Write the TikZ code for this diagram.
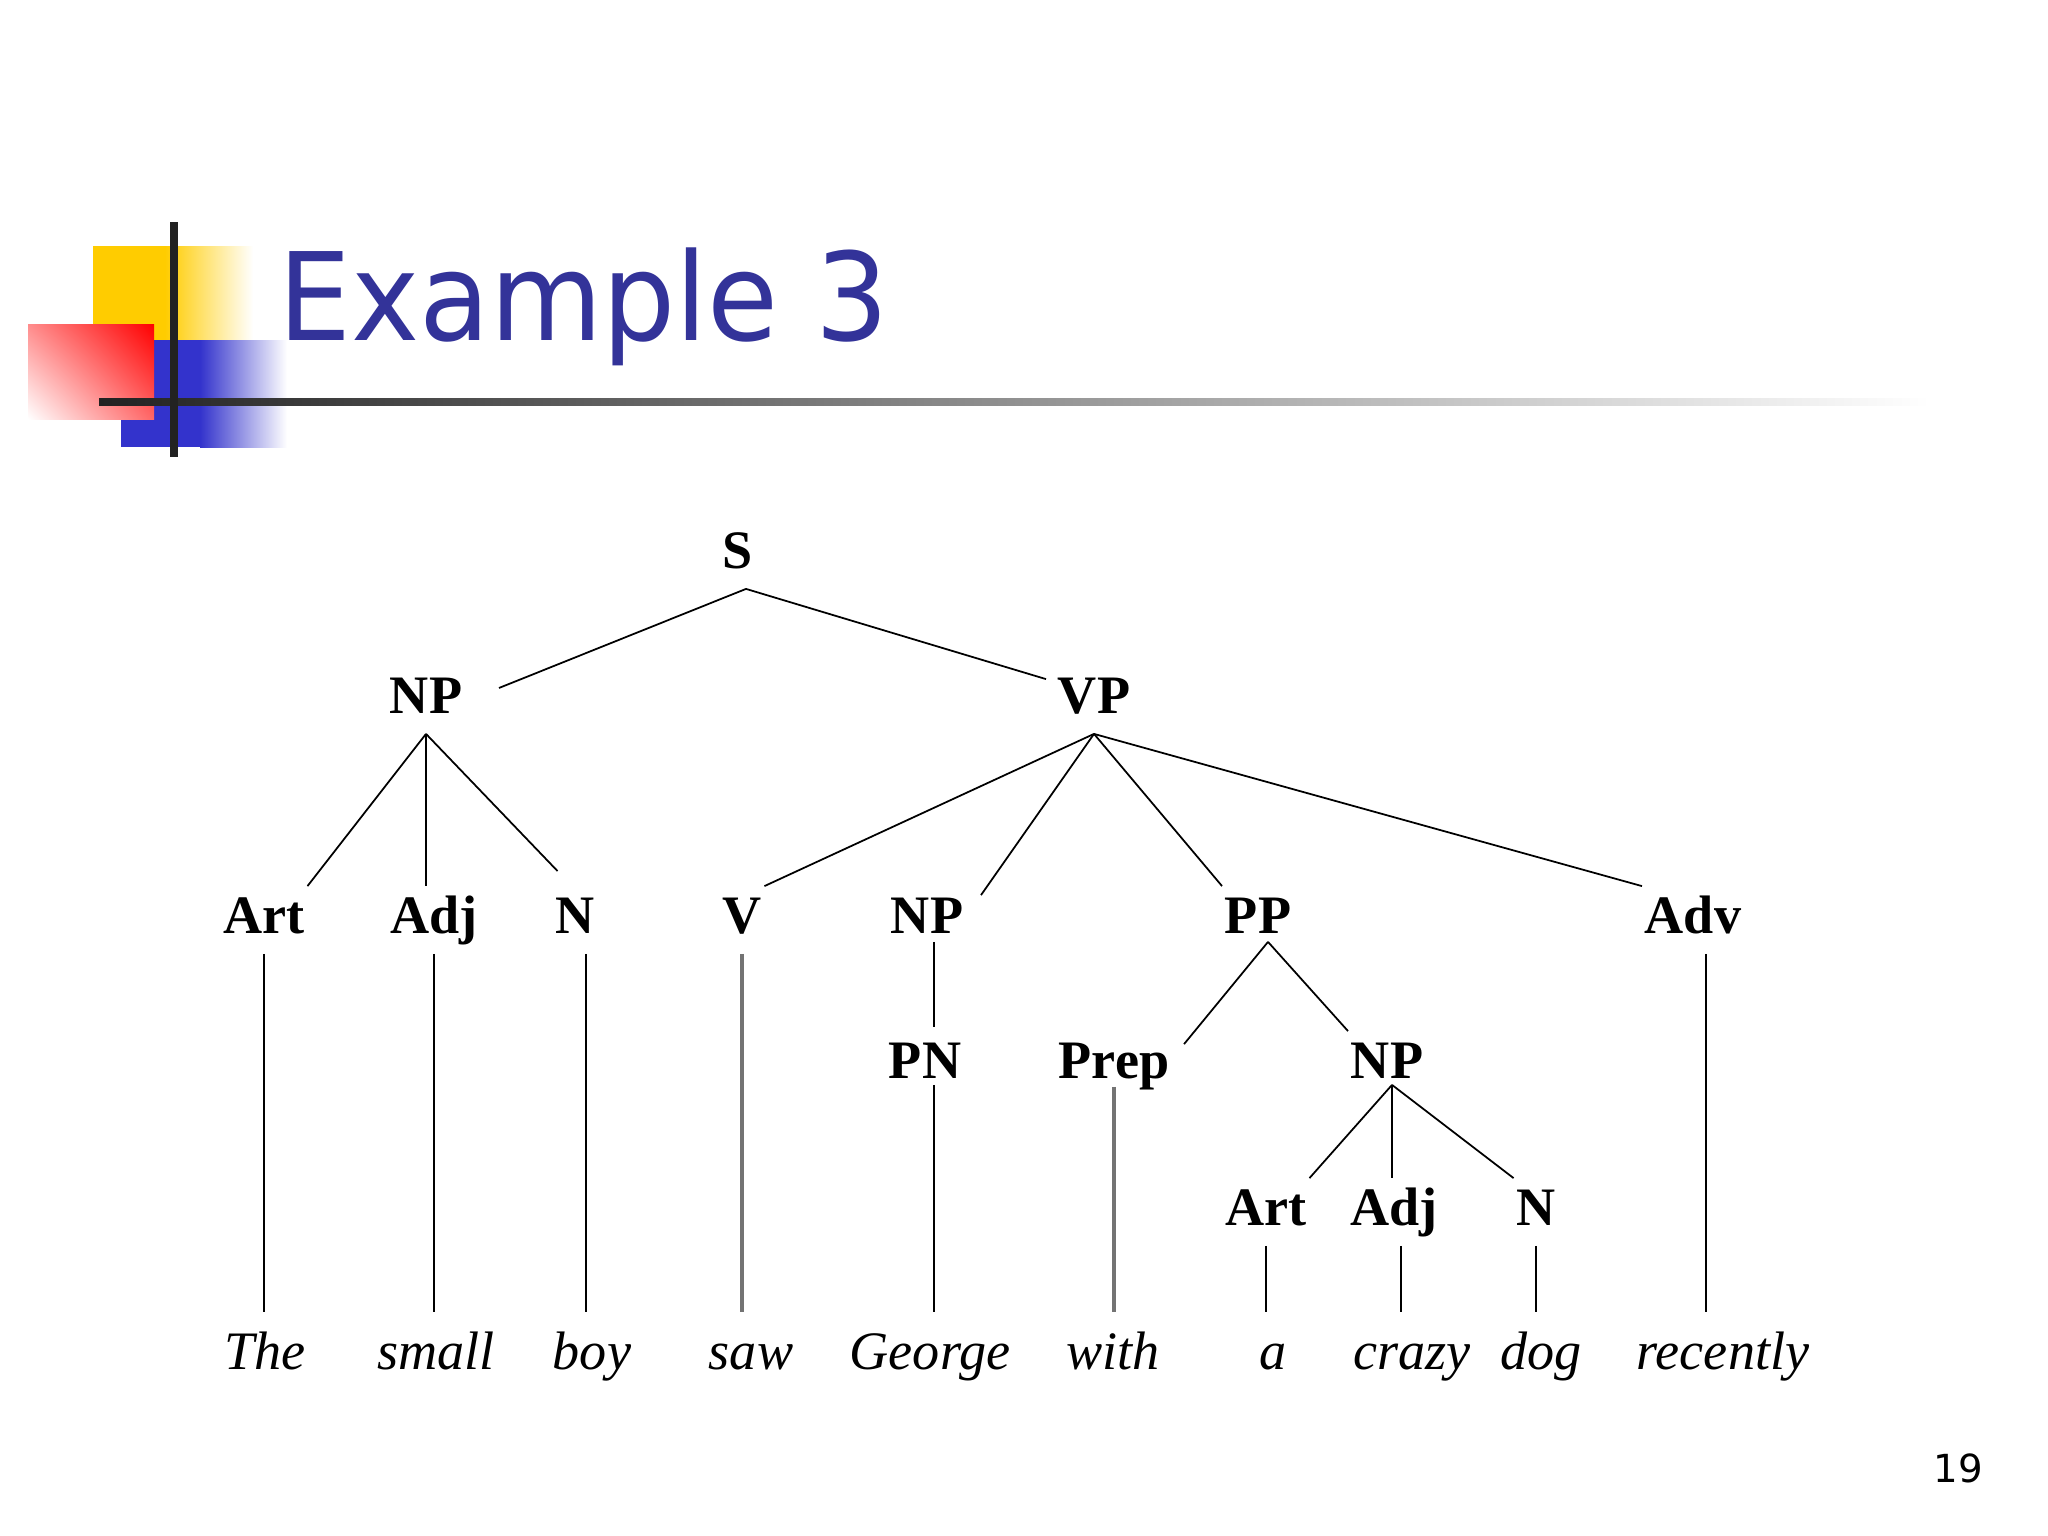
\documentclass[tikz,border=0pt]{standalone}
\usepackage{fontspec}
\usetikzlibrary{shadings}
\setmainfont{Liberation Serif}
\newfontfamily\titlefont[FakeStretch=1.05]{DejaVu Sans Condensed}
\newfontfamily\numfont{DejaVu Sans}
\definecolor{titleblue}{HTML}{333399}
\definecolor{boxyellow}{HTML}{FFCC00}
\definecolor{boxblue}{HTML}{3333CC}
\definecolor{barblack}{HTML}{222222}

\tikzset{cat/.style={font=\fontsize{15.4}{18}\selectfont\bfseries, anchor=base, inner xsep=0.02cm, inner ysep=0.1cm, text height=0.36cm, text depth=0.1cm}}
\tikzset{word/.style={font=\fontsize{15.4}{18}\selectfont\itshape, anchor=base, inner xsep=0.02cm, inner ysep=0.2cm, text height=0.36cm, text depth=0.1cm}}
\tikzset{pale/.style={draw=black!55, line width=0.9pt}}

\begin{document}
\begin{tikzpicture}[x=0.01cm, y=-0.01cm, line width=0.5pt]
    \fill[white] (0,0) rectangle (2048,1536);
    % logo in the corner
    \fill[boxyellow] (93,246) rectangle (165,340);
    \shade[left color=boxyellow, right color=white] (165,246) rectangle (253,340);
    \fill[boxblue] (121,340) rectangle (200,447);
    \shade[left color=boxblue, right color=white] (200,340) rectangle (287,447);
    \shade[upper right=red, upper left=red!45, lower right=red!60, lower left=white] (28,324) rectangle (154,419);
    \shade[left color=barblack, middle color=black!45, right color=white] (99,398.5) rectangle (1930,405.5);
    \draw[barblack, line width=2pt] (174,222) -- (174,457);

    \node[anchor=base west, inner sep=0, text=titleblue, font=\titlefont\fontsize{34.7}{40}\selectfont] (title) at (278,340) {Example 3};
    \node[anchor=base, inner sep=0, font=\numfont\fontsize{11}{13}\selectfont] (page) at (1958,1482) {19};

    % categories
    \node[cat] (0) at (738,568) {S};
    \node[cat] (1) at (426,713) {NP};
    \node[cat] (2) at (1094,713) {VP};
    \node[cat] (3) at (264,933) {Art};
    \node[cat] (4) at (434,933) {Adj};
    \node[cat] (5) at (575,933) {N};
    \node[cat] (6) at (742,933) {V};
    \node[cat] (7) at (927,933) {NP};
    \node[cat] (8) at (1258,933) {PP};
    \node[cat] (9) at (1693,933) {Adv};
    \node[cat] (10) at (925,1078) {PN};
    \node[cat] (11) at (1114,1078) {Prep};
    \node[cat] (12) at (1387,1078) {NP};
    \node[cat] (13) at (1266,1225) {Art};
    \node[cat] (14) at (1394,1225) {Adj};
    \node[cat] (15) at (1536,1225) {N};

    % words
    \node[word] (w0) at (265,1369) {The};
    \node[word] (w1) at (436,1369) {small};
    \node[word] (w2) at (592,1369) {boy};
    \node[word] (w3) at (751,1369) {saw};
    \node[word] (w4) at (930,1369) {George};
    \node[word] (w5) at (1113,1369) {with};
    \node[word] (w6) at (1273,1369) {a};
    \node[word] (w7) at (1412,1369) {crazy};
    \node[word] (w8) at (1541,1369) {dog};
    \node[word] (w9) at (1723,1369) {recently};

    \draw ([xshift=0.08cm]0.south) -- ([xshift=0.34cm, yshift=0.12cm]1.east);
    \draw ([xshift=0.08cm]0.south) -- ([xshift=-0.09cm, yshift=-0.13cm]2.north west);
    \draw (1.south) -- (3.north east);
    \draw (1.south) -- (1.south |- 4.north);
    \draw (1.south) -- ([xshift=0.05cm, yshift=0.15cm]5.north west);
    \draw (2.south) -- (6.north east);
    \draw (2.south) -- ([xshift=0.15cm, yshift=-0.09cm]7.north east);
    \draw (2.south) -- (8.north west);
    \draw (2.south) -- (9.north west);
    \draw ([xshift=0.07cm, yshift=0.12cm]7.south) -- ([xshift=0.07cm, yshift=0.04cm]7.south |- 10.north);
    \draw ([xshift=0.1cm, yshift=0.12cm]8.south) -- ([xshift=0.12cm, yshift=-0.13cm]11.north east);
    \draw ([xshift=0.1cm, yshift=0.12cm]8.south) -- (12.north west);
    \draw ([xshift=0.05cm, yshift=0.14cm]12.south) -- (13.north east);
    \draw ([xshift=0.05cm, yshift=0.14cm]12.south) -- ([xshift=0.05cm]12.south |- 14.north);
    \draw ([xshift=0.05cm, yshift=0.14cm]12.south) -- (15.north west);

    \draw (3.south) -- (3.south |- w0.north);
    \draw (4.south) -- (4.south |- w1.north);
    \draw ([xshift=0.11cm]5.south) -- ([xshift=0.11cm]5.south |- w2.north);
    \draw[pale] (6.south) -- (6.south |- w3.north);
    \draw ([xshift=0.09cm, yshift=0.14cm]10.south) -- ([xshift=0.09cm]10.south |- w4.north);
    \draw[pale] ([yshift=0.12cm]11.south) -- (11.south |- w5.north);
    \draw (13.south) -- (13.south |- w6.north);
    \draw ([xshift=0.07cm]14.south) -- ([xshift=0.07cm]14.south |- w7.north);
    \draw (15.south) -- (15.south |- w8.north);
    \draw ([xshift=0.13cm]9.south) -- ([xshift=0.13cm]9.south |- w9.north);
\end{tikzpicture}
\end{document}
